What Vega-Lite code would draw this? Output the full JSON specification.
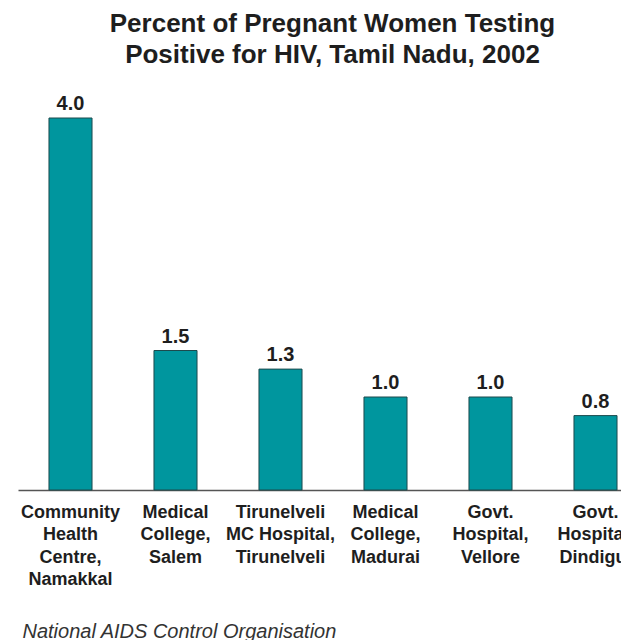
{
  "$schema": "https://vega.github.io/schema/vega-lite/v6.json",
  "autosize": "none",
  "width": 603,
  "height": 372,
  "padding": {"left": 18, "top": 118, "right": 0, "bottom": 150},
  "background": "white",
  "title": {
    "text": ["Percent of Pregnant Women Testing", "Positive for HIV, Tamil Nadu, 2002"],
    "font": "Liberation Sans",
    "fontSize": 26,
    "fontWeight": "bold",
    "color": "#1e1e1e",
    "lineHeight": 31,
    "anchor": "middle",
    "frame": "group",
    "dx": 13,
    "offset": 26
  },
  "data": {
    "values": [
      {"site": "Community|Health|Centre,|Namakkal", "pct": 4.0},
      {"site": "Medical|College,|Salem", "pct": 1.5},
      {"site": "Tirunelveli|MC Hospital,|Tirunelveli", "pct": 1.3},
      {"site": "Medical|College,|Madurai", "pct": 1.0},
      {"site": "Govt.|Hospital,|Vellore", "pct": 1.0},
      {"site": "Govt.|Hospital,|Dindigul", "pct": 0.8}
    ]
  },
  "encoding": {
    "x": {
      "field": "site",
      "type": "nominal",
      "sort": null,
      "scale": {"range": [0, 630], "paddingInner": 0.59, "paddingOuter": 0.295},
      "axis": {
        "title": "National AIDS Control Organisation",
        "titleFont": "Liberation Sans",
        "titleFontSize": 20,
        "titleFontStyle": "italic",
        "titleFontWeight": "normal",
        "titleColor": "#333333",
        "titleAnchor": "start",
        "titleAlign": "left",
        "titleBaseline": "middle",
        "titleX": 4,
        "titleY": 141,
        "labelExpr": "split(datum.label, '|')",
        "labelAngle": 0,
        "labelFont": "Liberation Sans",
        "labelFontSize": 18,
        "labelFontWeight": "bold",
        "labelColor": "#1e1e1e",
        "labelLineHeight": 22.5,
        "labelPadding": 13,
        "labelBaseline": "top",
        "labelOverlap": false,
        "labelBound": false,
        "labelFlush": false,
        "ticks": false,
        "domainColor": "#555555",
        "domainWidth": 1.5,
        "grid": false
      }
    },
    "y": {
      "field": "pct",
      "type": "quantitative",
      "scale": {"domain": [0, 4], "nice": false},
      "axis": null
    }
  },
  "layer": [
    {
      "mark": {"type": "bar", "fill": "#00969E", "stroke": "#1d4a4d", "strokeWidth": 1}
    },
    {
      "mark": {
        "type": "text",
        "font": "Liberation Sans",
        "fontSize": 20,
        "fontWeight": "bold",
        "color": "#1e1e1e",
        "baseline": "alphabetic",
        "dy": -8
      },
      "encoding": {"text": {"field": "pct", "type": "quantitative", "format": ".1f"}}
    }
  ],
  "config": {"view": {"stroke": null}}
}
